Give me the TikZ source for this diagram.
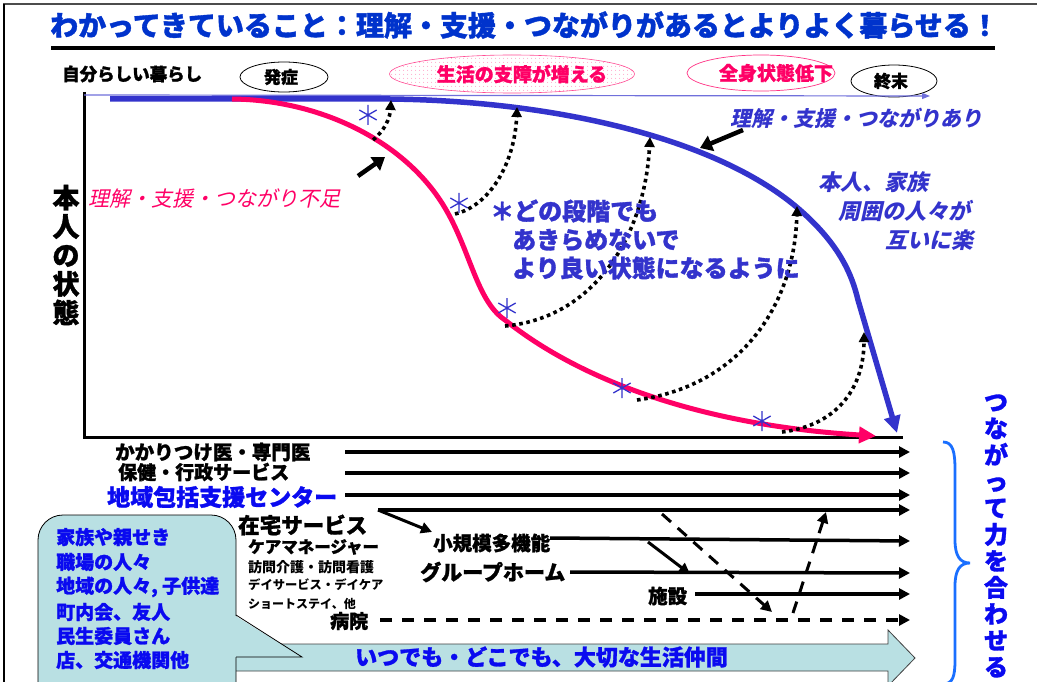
\documentclass[tikz,border=0pt]{standalone}
\usepackage{fontspec}
\setmainfont{Noto Sans CJK JP}
\newfontfamily\jpit{Noto Sans CJK JP}[FakeSlant=0.22]
\newfontfamily\heavy{Noto Sans CJK JP}[FakeBold=1.3]
\usetikzlibrary{arrows.meta,shapes.geometric,patterns.meta}
\definecolor{titleblue}{HTML}{0033CC}
\definecolor{cblue}{HTML}{3333CC}
\definecolor{cpink}{HTML}{FF0066}
\definecolor{bblue}{HTML}{0A0AF0}
\definecolor{bracecol}{HTML}{1A6FFF}
\definecolor{calloutfill}{HTML}{B9E0E3}
\newcommand\myfs[1]{\fontsize{#1}{#1}\selectfont}
\tikzset{
  lbl/.style={anchor=west, inner sep=0pt},
  ellbox/.style={draw, ellipse, inner sep=0pt, line width=0.8pt},
  hline/.style={line width=3.5pt, -{Triangle[length=11pt,width=11pt]}},
  dashline/.style={line width=3.5pt, dash pattern=on 12pt off 10pt, -{Triangle[length=11pt,width=11pt]}},
  dotarr/.style={line width=3.6pt, dash pattern=on 3.6pt off 3.6pt, -{Triangle[length=10pt,width=10pt]}},
  ptr/.style={line width=4.5pt, -{Triangle[length=12pt,width=16pt]}},
  ast/.pic={\draw[cblue, line width=1.3pt] (0,-10)--(0,10) (-8.7,-5)--(8.7,5) (-8.7,5)--(8.7,-5);}
}
\begin{document}
\begin{tikzpicture}[x=1pt,y=-1pt]
\useasboundingbox (0,0) rectangle (1037,682);
\fill[white] (0,0) rectangle (1037,682);
% frame
\draw[line width=2.5pt, black!70] (3,4) -- (1037,4);
\draw[line width=2.5pt] (4,4) -- (4,682);
% title
\node[lbl, font=\heavy\bfseries\myfs{28}, text=titleblue] (title) at (50,25) {わかってきていること：理解・支援・つながりがあるとよりよく暮らせる！};
\draw[line width=4pt] (51,48) -- (995,48);
% top labels
\node[lbl, font=\heavy\bfseries\myfs{17.5}] (self) at (62,74) {自分らしい暮らし};
\node[ellbox, minimum width=88pt, minimum height=30pt] (onsetE) at (284,77) {};
\node[font=\heavy\bfseries\myfs{17}, inner sep=0pt] (onset) at (281,77) {発症};
\node[ellbox, draw=cpink!70, line width=0.6pt, minimum width=245pt, minimum height=38pt, pattern={Dots[distance=4pt,radius=0.6pt]}, pattern color=cpink!45] (lifeE) at (512,74) {};
\node[font=\heavy\bfseries\myfs{19}, text=cpink, inner sep=0pt] (life) at (522,74) {生活の支障が増える};
\node[ellbox, draw=cpink!80, line width=0.7pt, minimum width=148pt, minimum height=36pt] (bodyE) at (761,73) {};
\node[font=\heavy\bfseries\myfs{19}, text=cpink, inner sep=0pt] (body) at (776,73) {全身状態低下};
\node[ellbox, minimum width=86pt, minimum height=32pt] (endE) at (894,81) {};
\node[font=\heavy\bfseries\myfs{17}, inner sep=0pt] (endT) at (891,81) {終末};
% axes
\coordinate (axTop) at (84,92);
\coordinate (axCorner) at (84,437);
\coordinate (axRight) at (903,437);
\coordinate (tlEnd) at (930,96);
\draw[line width=3pt] (axTop) -- (axCorner) -- (axRight);
\draw[line width=1.2pt, color=cblue!70, -{Triangle[length=8pt,width=6pt]}] (84,95) -- (tlEnd);
\node[font=\heavy\bfseries\fontsize{27}{28.75}\selectfont, align=center, inner sep=0pt] (state) at (66,255) {本\\人\\の\\状\\態};
% curves
\draw[cblue, line width=5.5pt, -{Triangle[length=17pt,width=16pt]}] (110,99) -- (390,99) .. controls (560,101) and (720,140) .. (800,210) .. controls (840,245) and (852,275) .. (858,300) -- (897,433);
\draw[cpink, line width=5pt, -{Triangle[length=17pt,width=16pt]}] (232,99) .. controls (320,100) and (400,140) .. (440,200) .. controls (470,245) and (475,300) .. (505,320) .. controls (580,380) and (700,425) .. (876,436);
% asterisks
\pic at (368,115) {ast};
\pic at (459,203) {ast};
\pic at (507,308) {ast};
\pic at (622,388) {ast};
\pic at (762,421) {ast};
% dotted arrows
\coordinate (p1) at (373,140); \coordinate (b1) at (391,100);
\coordinate (p2) at (455,214); \coordinate (b2) at (517,107);
\coordinate (p3) at (505,326); \coordinate (b3) at (650,137);
\coordinate (p4) at (637,400); \coordinate (b4) at (797,206);
\coordinate (p5) at (782,432); \coordinate (b5) at (864,332);
\draw[dotarr] (p1) .. controls (385,130) and (390,118) .. (b1);
\draw[dotarr] (p2) .. controls (492,205) and (515,160) .. (b2);
\draw[dotarr] (p3) .. controls (595,318) and (645,235) .. (b3);
\draw[dotarr] (p4) .. controls (745,385) and (795,300) .. (b4);
\draw[dotarr] (p5) .. controls (840,425) and (864,385) .. (b5);
% pointer arrows
\coordinate (pk0) at (358,176); \coordinate (pk1) at (385,157);
\coordinate (bl0) at (743,130); \coordinate (bl1) at (700,148);
\draw[ptr] (pk0) -- (pk1);
\draw[ptr] (bl0) -- (bl1);
% curve labels
\node[lbl, font=\jpit\bfseries\myfs{21}, text=cblue] (withT) at (730,118) {理解・支援・つながりあり};
\node[lbl, font=\jpit\myfs{21}, text=cpink] (lackT) at (88,198) {理解・支援・つながり不足};
\node[lbl, font=\heavy\bfseries\myfs{24}, text=cblue] (m1) at (490,211) {＊どの段階でも};
\node[lbl, font=\heavy\bfseries\myfs{24}, text=cblue] (m2) at (512,240) {あきらめないで};
\node[lbl, font=\heavy\bfseries\myfs{24}, text=cblue] (m3) at (512,268) {より良い状態になるように};
\node[lbl, font=\jpit\bfseries\myfs{22}, text=cblue] (r1) at (818,182) {本人、家族};
\node[lbl, font=\jpit\bfseries\myfs{22}, text=cblue] (r2) at (838,211) {周囲の人々が};
\node[lbl, font=\jpit\bfseries\myfs{22}, text=cblue] (r3) at (885,240) {互いに楽};
% bottom labels
\node[lbl, font=\heavy\bfseries\myfs{19.5}] (doc) at (115,452) {かかりつけ医・専門医};
\node[lbl, font=\heavy\bfseries\myfs{19}] (gov) at (118,472) {保健・行政サービス};
\node[lbl, font=\heavy\bfseries\myfs{23}, text=bblue] (center) at (107,497) {地域包括支援センター};
\node[lbl, font=\heavy\bfseries\myfs{21.5}] (home) at (238,525) {在宅サービス};
\node[lbl, font=\heavy\bfseries\myfs{16.5}] (cm) at (248,547) {ケアマネージャー};
\node[lbl, font=\bfseries\myfs{14}] (visit) at (248,567) {訪問介護・訪問看護};
\node[lbl, font=\bfseries\myfs{12.3}] (day) at (248,585) {デイサービス・デイケア};
\node[lbl, font=\bfseries\myfs{12}] (short) at (248,604) {ショートステイ、他};
\node[lbl, font=\heavy\bfseries\myfs{19}] (hosp) at (330,621) {病院};
\node[lbl, font=\heavy\bfseries\myfs{19.5}] (small) at (433,543) {小規模多機能};
\node[lbl, font=\heavy\bfseries\myfs{21}] (group) at (420,572) {グループホーム};
\node[lbl, font=\heavy\bfseries\myfs{19.5}] (fac) at (648,596) {施設};
% horizontal arrows
\coordinate (e1) at (910,452); \coordinate (s1) at (345,452);
\coordinate (e2) at (910,473); \coordinate (s2) at (345,473);
\coordinate (e3) at (910,495); \coordinate (s3) at (345,495);
\coordinate (e4) at (910,510); \coordinate (s4) at (378,510);
\coordinate (e5) at (910,541); \coordinate (s5) at (550,538);
\coordinate (e6) at (910,573); \coordinate (s6) at (570,572);
\coordinate (e7) at (910,594); \coordinate (s7) at (695,594);
\coordinate (e8) at (910,620); \coordinate (s8) at (380,620);
\draw[hline] (s1) -- (e1);
\draw[hline] (s2) -- (e2);
\draw[hline] (s3) -- (e3);
\draw[hline] (s4) -- (e4);
\draw[hline] (s5) -- (e5);
\draw[hline] (s6) -- (e6);
\draw[hline] (s7) -- (e7);
\draw[dashline] (s8) -- (e8);
\coordinate (d1) at (432,532);
\draw[line width=3pt, -{Triangle[length=11pt,width=11pt]}] (s4) -- (d1);
\coordinate (g0) at (648,542); \coordinate (g1) at (690,574);
\draw[line width=3pt, -{Triangle[length=11pt,width=11pt]}] (g0) -- (g1);
\coordinate (h0) at (662,514); \coordinate (h1) at (772,612);
\draw[line width=3pt, dash pattern=on 12pt off 9pt, -{Triangle[length=11pt,width=11pt]}] (h0) -- (h1);
\coordinate (k0) at (793,613); \coordinate (k1) at (826,512);
\draw[line width=3pt, dash pattern=on 12pt off 9pt, -{Triangle[length=11pt,width=11pt]}] (k0) -- (k1);
% big arrow
\draw[fill=calloutfill, draw=black!75, line width=0.8pt] (200,644) -- (888,644) -- (888,630) -- (915,658) -- (888,686) -- (888,671) -- (200,671) -- cycle;
\node[lbl, font=\heavy\bfseries\myfs{22}, text=bblue] (always) at (355,657) {いつでも・どこでも、大切な生活仲間};
% callout
\draw[fill=calloutfill, line width=0.8pt, rounded corners=25pt] (38,515) rectangle (236,710);
\fill[calloutfill] (234,615) -- (302,657) -- (234,657) -- cycle;
\draw[line width=0.8pt] (236,615) -- (302,657) -- (236,657);
\node[lbl, font=\heavy\bfseries\myfs{19}, text=bblue] (c1) at (56,537) {家族や親せき};
\node[lbl, font=\heavy\bfseries\myfs{19}, text=bblue] (c2) at (56,562) {職場の人々};
\node[lbl, font=\heavy\bfseries\myfs{19}, text=bblue] (c3) at (56,587) {地域の人々, 子供達};
\node[lbl, font=\heavy\bfseries\myfs{19}, text=bblue] (c4) at (56,612) {町内会、友人};
\node[lbl, font=\heavy\bfseries\myfs{19}, text=bblue] (c5) at (56,636) {民生委員さん};
\node[lbl, font=\heavy\bfseries\myfs{19}, text=bblue] (c6) at (56,660) {店、交通機関他};
% brace
\draw[bracecol, line width=2.8pt] (943,442) .. controls (953,442) and (955,452) .. (955,470) -- (955,540) .. controls (955,556) and (960,563) .. (970,563) .. controls (960,563) and (955,570) .. (955,586) -- (955,660) .. controls (955,676) and (953,684) .. (943,684);
\node[font=\heavy\bfseries\fontsize{24}{26.5}\selectfont, text=bblue, align=center, inner sep=0pt] (together) at (996,536) {つ\\な\\が\\っ\\て\\力\\を\\合\\わ\\せ\\る};
\end{tikzpicture}
\end{document}
